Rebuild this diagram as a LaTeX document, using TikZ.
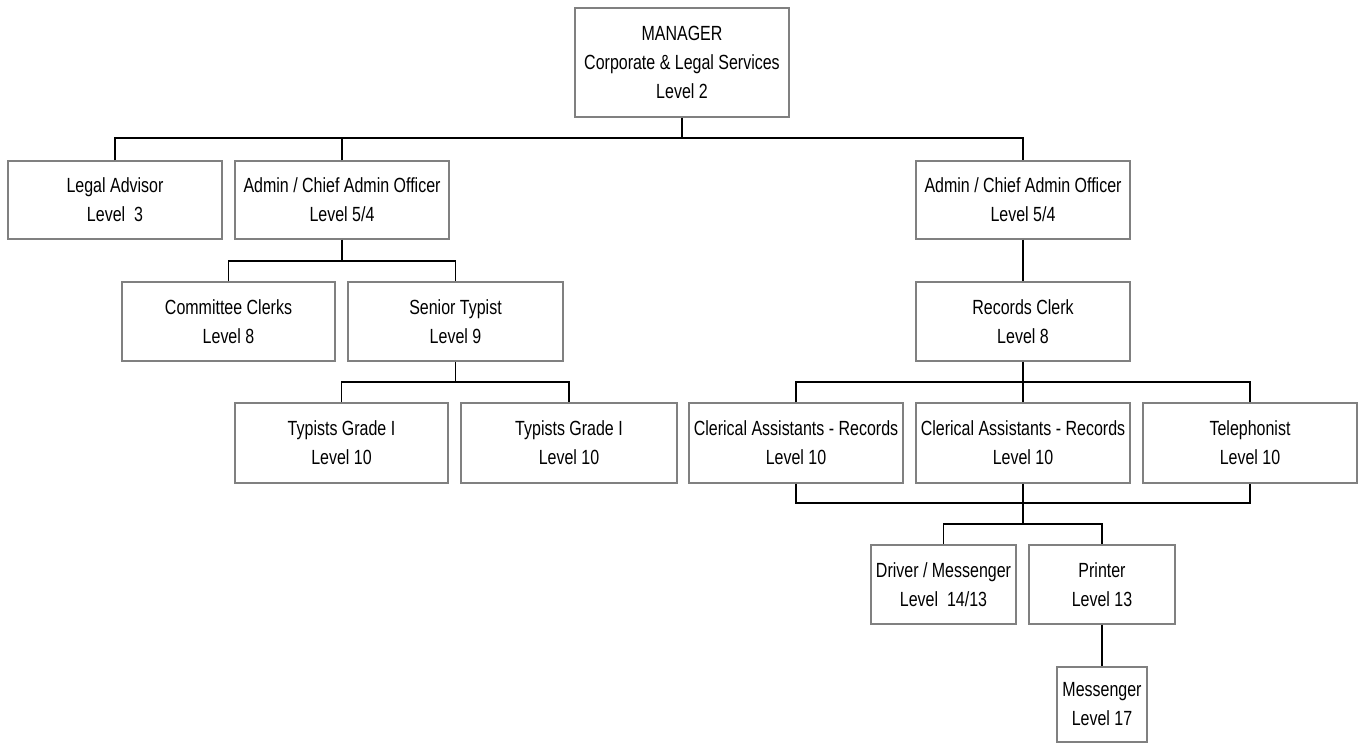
\documentclass[tikz,border=0pt]{standalone}
\usepackage{fontspec}
\setmainfont{Liberation Sans}[FakeStretch=0.78]
\begin{document}
\begin{tikzpicture}[x=1pt,y=1pt,
  box/.style={draw=black!50, line width=1.1pt, fill=white, align=center, inner sep=2pt,
    font=\fontsize{20.5}{29}\selectfont, text=black},
  link/.style={draw=black, line width=1.1pt}]
\useasboundingbox (0,0) rectangle (1365,-744);
% boxes
\node[box, minimum width=214, minimum height=109] (mgr) at (682,-62.5) {MANAGER\\Corporate \& Legal Services\\Level 2};
\node[box, minimum width=214, minimum height=78] (legal) at (115,-200) {Legal Advisor\\Level\ \ 3};
\node[box, minimum width=214, minimum height=78] (adminL) at (342,-200) {Admin / Chief Admin Officer\\Level 5/4};
\node[box, minimum width=214, minimum height=78] (adminR) at (1023,-200) {Admin / Chief Admin Officer\\Level 5/4};
\node[box, minimum width=213, minimum height=79] (comm) at (228.5,-321.5) {Committee Clerks\\Level 8};
\node[box, minimum width=215, minimum height=79] (senior) at (455.5,-321.5) {Senior Typist\\Level 9};
\node[box, minimum width=214, minimum height=79] (records) at (1023,-321.5) {Records Clerk\\Level 8};
\node[box, minimum width=213, minimum height=80] (typ1) at (341.5,-443) {Typists Grade I\\Level 10};
\node[box, minimum width=216, minimum height=80] (typ2) at (569,-443) {Typists Grade I\\Level 10};
\node[box, minimum width=214, minimum height=80] (cler1) at (796,-443) {Clerical Assistants - Records\\Level 10};
\node[box, minimum width=214, minimum height=80] (cler2) at (1023,-443) {Clerical Assistants - Records\\Level 10};
\node[box, minimum width=214, minimum height=80] (tel) at (1250,-443) {Telephonist\\Level 10};
\node[box, minimum width=145, minimum height=79] (driver) at (943.5,-584.5) {Driver / Messenger\\Level\ \ 14/13};
\node[box, minimum width=146, minimum height=79] (printer) at (1102,-584.5) {Printer\\Level 13};
\node[box, minimum width=90, minimum height=75] (mess) at (1102,-704.5) {Messenger\\Level 17};
% connectors
\draw[link] (mgr.south) -- (mgr.south |- 0,-138);
\draw[link] (legal.north) |- (adminR.north |- 0,-138) -- (adminR.north);
\draw[link] (adminL.north) -- (adminL.north |- 0,-138);
\draw[link] (adminL.south) -- (adminL.south |- 0,-261);
\draw[link] (comm.north) |- (senior.north |- 0,-261) -- (senior.north);
\draw[link] (senior.south) -- (senior.south |- 0,-382);
\draw[link] (typ1.north) |- (typ2.north |- 0,-382) -- (typ2.north);
\draw[link] (adminR.south) -- (records.north);
\draw[link] (records.south) -- (cler2.north);
\draw[link] (cler1.north) |- (tel.north |- 0,-382) -- (tel.north);
\draw[link] (cler1.south) |- (tel.south |- 0,-503) -- (tel.south);
\draw[link] (cler2.south) -- (cler2.south |- 0,-524);
\draw[link] (driver.north) |- (printer.north |- 0,-524) -- (printer.north);
\draw[link] (printer.south) -- (mess.north);
\end{tikzpicture}
\end{document}
